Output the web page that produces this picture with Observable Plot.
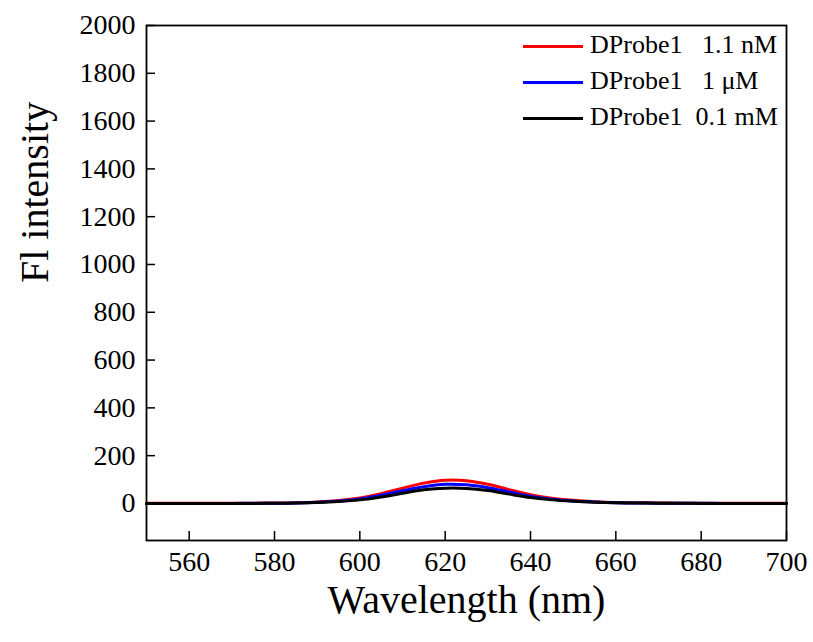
<!DOCTYPE html>
<html>
<head>
<meta charset="utf-8">
<script src="https://cdn.jsdelivr.net/npm/d3@7"></script>
<script src="https://cdn.jsdelivr.net/npm/@observablehq/plot@0.6"></script>
<style>
  body { margin: 0; background: #fff; }
  #wrap { position: relative; width: 813px; height: 642px; }
  #wrap, #wrap * { font-family: "Liberation Serif", "Times New Roman", serif !important; }
  #legend { position: absolute; left: 0; top: 0; width: 813px; height: 642px; pointer-events: none; }
  .row { position: absolute; font-size: 26px; line-height: 26px; white-space: pre; color: #000; }
  .sw { position: absolute; height: 3px; width: 60px; }
</style>
</head>
<body>
<div id="wrap"></div>
<script>
const wavelength = [550,555,560,565,570,575,580,585,590,595,600,605,610,615,620,625,630,635,640,645,650,655,660,665,670,675,680,685,690,695,700];
const red   = [1,1,1,1,1,1,2,3,6,12,23,41,64,85,97,95,80,58,37,22,13,7,4,3,2,1,1,1,1,1,1];
const blue  = [0,0,0,0,0,1,1,2,5,10,19,34,53,70,80,78,66,48,30,18,10,6,3,2,1,1,1,0,0,0,0];
const black = [0,0,0,0,0,0,1,2,4,8,15,27,43,57,64,63,54,39,25,15,9,5,3,2,1,1,0,0,0,0,0];
const seriesNames = ["DProbe1   1.1 nM", "DProbe1   1 μM", "DProbe1  0.1 mM"];
const seriesColors = ["#ff0000", "#0000ff", "#000000"];
const xTicks = [560,580,600,620,640,660,680,700];
const yTicks = [0,200,400,600,800,1000,1200,1400,1600,1800,2000];

const seriesValues = [red, blue, black];
const data = [];
seriesValues.forEach((vals, si) => vals.forEach((v, i) => data.push({x: wavelength[i], y: v, s: seriesNames[si]})));

const W = 813, H = 642;
const mL = 146, mR = 27, mT = 25, mB = 102;
const innerW = W - mL - mR, innerH = H - mT - mB;
const font = "Liberation Serif, Times New Roman, serif";

const chart = Plot.plot({
  width: W, height: H,
  marginLeft: mL, marginRight: mR, marginTop: mT, marginBottom: mB,
  style: {fontFamily: font, background: "#fff", color: "#000"},
  x: {domain: [550, 700]},
  y: {domain: [-155, 2000]},
  color: {domain: seriesNames, range: seriesColors},
  marks: [
    Plot.axisX({ticks: xTicks, tickSize: 0, tickPadding: 11, fontSize: 28, fontFamily: font, fontVariant: "normal", label: null, tickFormat: d => String(d)}),
    Plot.axisY({ticks: yTicks, tickSize: 0, tickPadding: 11, fontSize: 28, fontFamily: font, fontVariant: "normal", label: null, tickFormat: d => String(d)}),
    Plot.tickY(yTicks, {y: d => d, insetRight: innerW - 9, stroke: "#000", strokeWidth: 1.5}),
    Plot.tickX(xTicks, {x: d => d, insetTop: innerH - 9, stroke: "#000", strokeWidth: 1.5}),
    Plot.line(data, {x: "x", y: "y", z: "s", stroke: "s", strokeWidth: 3, curve: "catmull-rom"}),
    Plot.frame({stroke: "#000", strokeWidth: 1.8}),
    Plot.text(["Fl intensity"], {text: d => d, frameAnchor: "left", dx: -111, rotate: -90, fontSize: 40, fontFamily: font, fill: "#000"}),
    Plot.text(["Wavelength (nm)"], {text: d => d, frameAnchor: "bottom", dy: 72, fontSize: 40, fontFamily: font, fill: "#000"})
  ]
});

const wrap = document.getElementById("wrap");
wrap.appendChild(chart);

const legend = document.createElement("div");
legend.id = "legend";
const rowY = [46, 82, 118];
seriesNames.forEach((name, i) => {
  const sw = document.createElement("div");
  sw.className = "sw";
  sw.style.left = "523px";
  sw.style.top = (rowY[i] - 1.5) + "px";
  sw.style.background = seriesColors[i];
  legend.appendChild(sw);
  const t = document.createElement("div");
  t.className = "row";
  t.style.left = "590px";
  t.style.top = (rowY[i] - 14) + "px";
  t.textContent = name;
  legend.appendChild(t);
});
wrap.appendChild(legend);
</script>
</body>
</html>
